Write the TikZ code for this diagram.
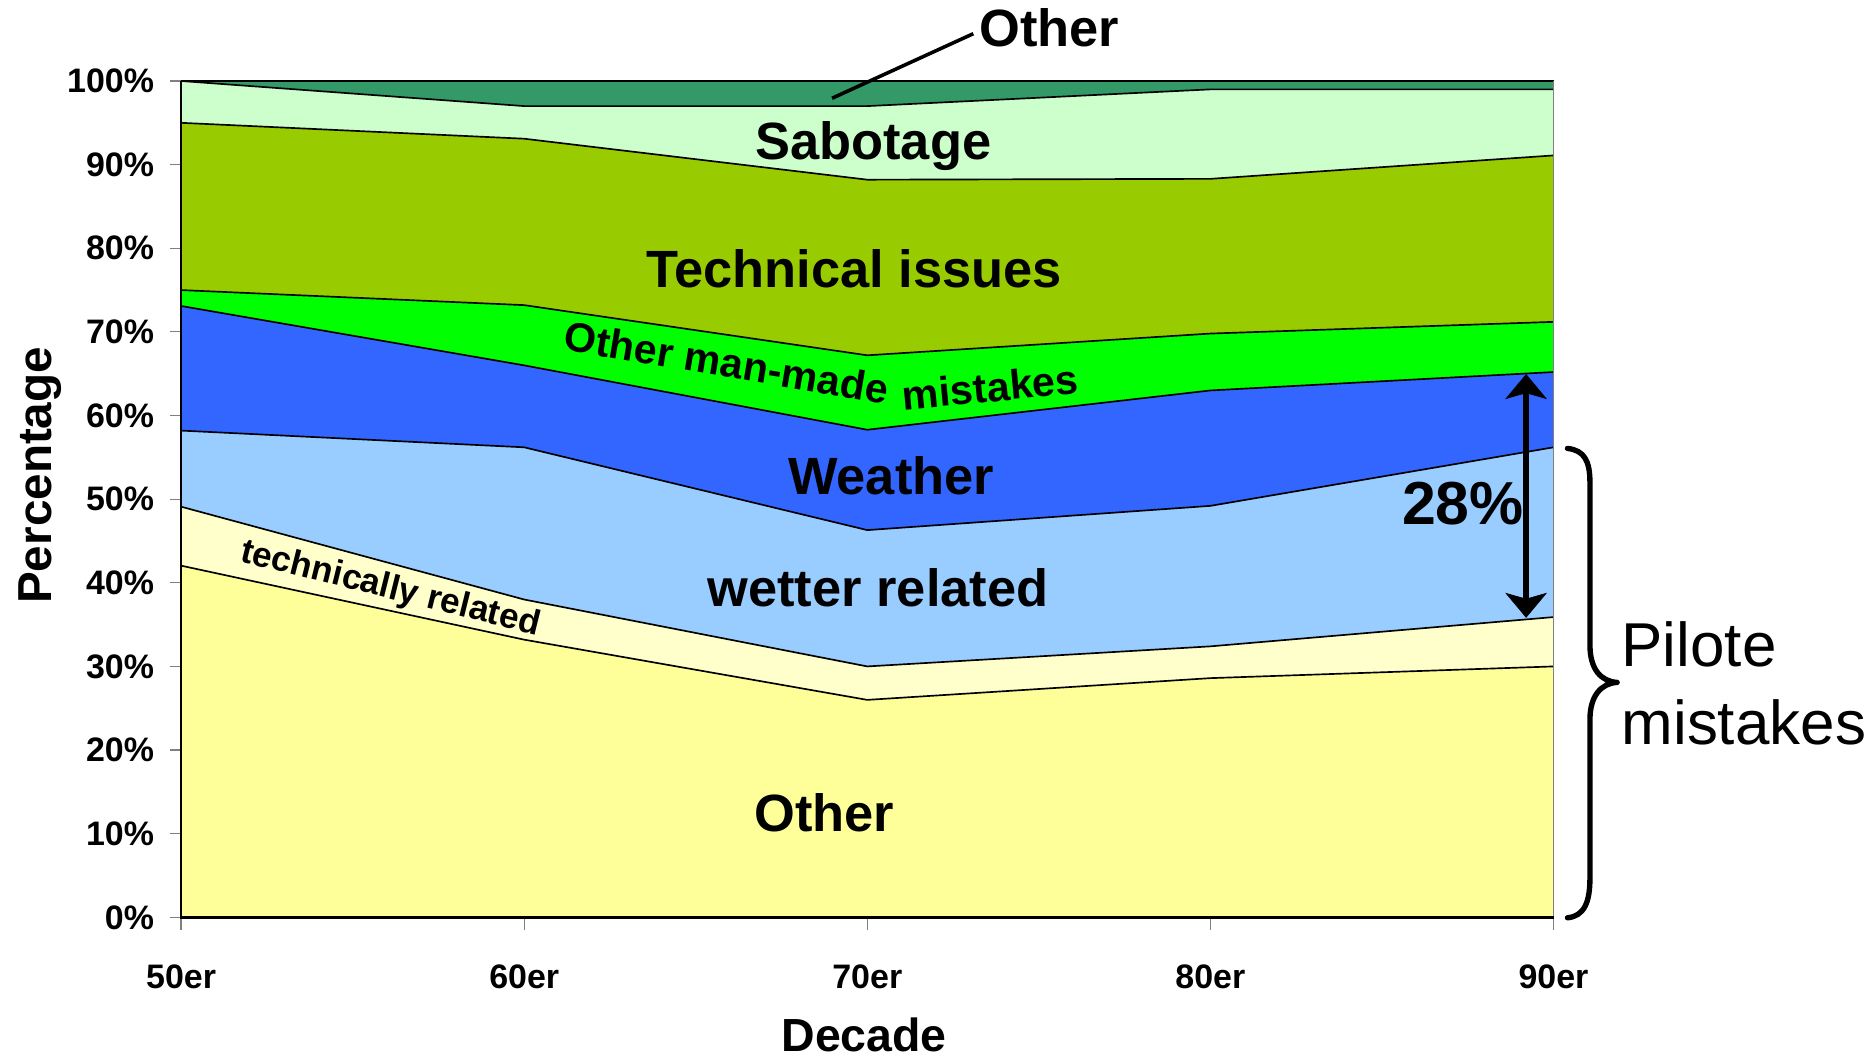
\documentclass[tikz,border=0pt]{standalone}
\usepackage{fontspec}
\setmainfont{Liberation Sans}
\usetikzlibrary{arrows.meta}
\definecolor{cOtherTop}{HTML}{339966}
\definecolor{cSabo}{HTML}{CCFFCC}
\definecolor{cTech}{HTML}{99CC00}
\definecolor{cMan}{HTML}{00FF00}
\definecolor{cWeather}{HTML}{3366FF}
\definecolor{cWetter}{HTML}{99CCFF}
\definecolor{cTechRel}{HTML}{FFFFCC}
\definecolor{cOtherBot}{HTML}{FFFF99}
\definecolor{tickgray}{HTML}{808080}
\begin{document}
\begin{tikzpicture}[x=1pt,y=1pt,
  bigLabel/.style={font=\bfseries\fontsize{44}{50}\selectfont, inner sep=0pt, anchor=base},
  midLabel/.style={font=\bfseries\fontsize{34.6}{40}\selectfont, inner sep=0pt, anchor=base},
  tickLabel/.style={font=\bfseries\fontsize{28.5}{32}\selectfont, inner sep=0pt},
  bline/.style={draw=black, line width=1.4pt, line join=round},
  tickline/.style={draw=tickgray, line width=1pt},
  dimArrow/.style={line width=5.5pt, {Stealth[length=21pt,width=35pt,inset=5pt,line width=0.5pt]}-{Stealth[length=21pt,width=35pt,inset=5pt,line width=0.5pt]}},
]
\useasboundingbox (0,0) rectangle (1568,887);
\clip (0,0) rectangle (1568,887);
\fill[white] (0,0) rectangle (1568,887);

\begin{scope}[x=288pt,y=7.02pt,shift={(152pt,117pt)}]
\fill[cOtherTop] (0,100)--(1,100)--(2,100)--(3,100)--(4,100)--(4,99)--(3,99)--(2,97)--(1,97)--(0,100)--cycle;
\fill[cSabo] (0,100)--(1,97)--(2,97)--(3,99)--(4,99)--(4,91.1)--(3,88.3)--(2,88.2)--(1,93.1)--(0,95)--cycle;
\fill[cTech] (0,95)--(1,93.1)--(2,88.2)--(3,88.3)--(4,91.1)--(4,71.2)--(3,69.8)--(2,67.2)--(1,73.2)--(0,75)--cycle;
\fill[cMan] (0,75)--(1,73.2)--(2,67.2)--(3,69.8)--(4,71.2)--(4,65.2)--(3,63)--(2,58.3)--(1,66)--(0,73.1)--cycle;
\fill[cWeather] (0,73.1)--(1,66)--(2,58.3)--(3,63)--(4,65.2)--(4,56.2)--(3,49.2)--(2,46.3)--(1,56.2)--(0,58.2)--cycle;
\fill[cWetter] (0,58.2)--(1,56.2)--(2,46.3)--(3,49.2)--(4,56.2)--(4,35.9)--(3,32.4)--(2,30)--(1,38)--(0,49.1)--cycle;
\fill[cTechRel] (0,49.1)--(1,38)--(2,30)--(3,32.4)--(4,35.9)--(4,30)--(3,28.6)--(2,26)--(1,33.2)--(0,42.05)--cycle;
\fill[cOtherBot] (0,42.05)--(1,33.2)--(2,26)--(3,28.6)--(4,30)--(4,0)--(0,0)--cycle;
\draw[bline] (0,100)--(4,100);
\draw[bline] (0,100)--(1,97)--(2,97)--(3,99)--(4,99);
\draw[bline] (0,95)--(1,93.1)--(2,88.2)--(3,88.3)--(4,91.1);
\draw[bline] (0,75)--(1,73.2)--(2,67.2)--(3,69.8)--(4,71.2);
\draw[bline] (0,73.1)--(1,66)--(2,58.3)--(3,63)--(4,65.2);
\draw[bline] (0,58.2)--(1,56.2)--(2,46.3)--(3,49.2)--(4,56.2);
\draw[bline] (0,49.1)--(1,38)--(2,30)--(3,32.4)--(4,35.9);
\draw[bline] (0,42.05)--(1,33.2)--(2,26)--(3,28.6)--(4,30);
\end{scope}

% axes
\draw[tickgray, line width=1pt] (1304,819) -- (1304,106.4);
\foreach \p in {0,10,...,100} {
  \draw[tickline] (142.6,{117+7.02*\p}) -- (152,{117+7.02*\p});
  \node[tickLabel, anchor=east] (yl\p) at (129.5,{117+7.02*\p}) {\p\%};
}
\foreach \i/\t in {0/50er,1/60er,2/70er,3/80er,4/90er} {
  \draw[tickline] ({152+288*\i},117) -- ({152+288*\i},106.4);
  \node[tickLabel, anchor=base] (xl\i) at ({152+288*\i},57.4) {\t};
}
\draw[black, line width=1.4pt] (152,117) -- (152,819);
\draw[black, line width=2pt] (151.3,117) -- (1304,117);

% labels in the chart
\node[bigLabel, anchor=base west] (otherTop) at (822,848) {Other};
\coordinate (otherTip) at (698.4,804.5);
\draw[line width=3pt] ([xshift=-5pt,yshift=-5pt]otherTop.west) -- (otherTip);
\node[bigLabel] (sabotage) at (733,753) {Sabotage};
\node[bigLabel] (technical) at (717,646) {Technical issues};
\node[midLabel, rotate=-9.5] (manmade1) at (608,570.6) {Other man-made};
\node[midLabel, rotate=5.4] (manmade2) at (832.5,549.8) {mistakes};
\node[bigLabel] (weather) at (748,471.5) {Weather};
\node[bigLabel] (wetter) at (737,377.7) {wetter related};
\node[font=\bfseries\fontsize{29.5}{34}\selectfont, inner sep=0pt, anchor=base, rotate=-14] (techrel) at (326,384.8) {technically related};
\node[bigLabel] (otherBot) at (692,189.4) {Other};

% axis titles
\node[font=\bfseries\fontsize{39}{44}\selectfont, inner sep=0pt, anchor=base] (decade) at (725.4,4.2) {Decade};
\node[font=\bfseries\fontsize{40}{46}\selectfont, inner sep=0pt, anchor=base, rotate=90] (percentage) at (43,488) {Percentage};

% 28% arrow
\node[font=\bfseries\fontsize{51}{56}\selectfont, inner sep=0pt, anchor=base] (pct) at (1228,447) {28\%};
\coordinate (arrTop) at (1281,573);
\coordinate (arrBot) at (1281,368.4);
\draw[dimArrow] (arrTop) -- (arrBot);

% brace and pilot label
\coordinate (braceTop) at (1315.7,510.6);
\coordinate (braceTip) at (1357.4,314.2);
\coordinate (braceBot) at (1315.7,116.6);
\draw[line width=4.5pt, line cap=round, line join=round]
  (braceTop) .. controls (1330,509) and (1334.6,500) .. (1334.6,481.6)
  -- (1334.6,345.5) .. controls (1334.6,325) and (1344,315) .. (braceTip)
  .. controls (1344,313.4) and (1334.6,303) .. (1334.6,283)
  -- (1334.6,150.2) .. controls (1334.6,130) and (1330,118) .. (braceBot);
\node[font=\fontsize{52}{60}\selectfont, inner sep=0pt, anchor=base west] (pilote1) at (1361,327.4) {Pilote};
\node[font=\fontsize{52}{60}\selectfont, inner sep=0pt, anchor=base west] (pilote2) at (1361,262) {mistakes};
\end{tikzpicture}
\end{document}
